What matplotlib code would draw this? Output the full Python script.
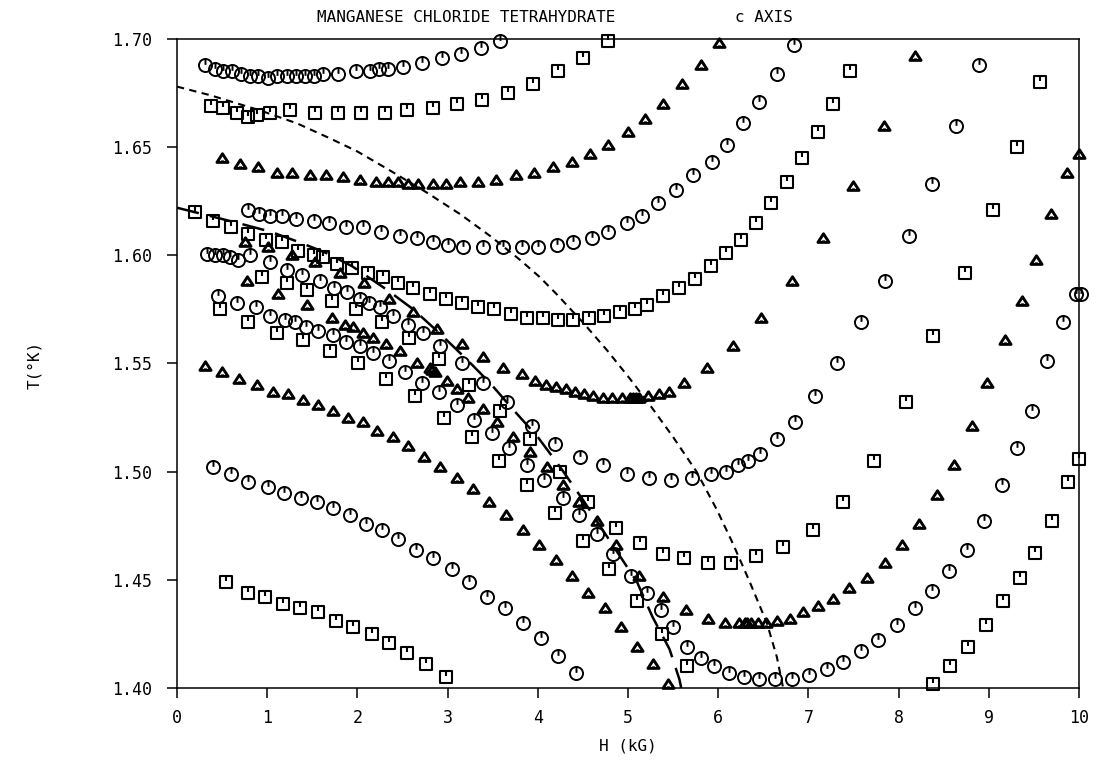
import matplotlib
matplotlib.use("Agg")
import matplotlib.pyplot as plt
from matplotlib.path import Path

plt.rcParams['font.family'] = ['DejaVu Sans Mono']

# ---- circles ----
circ_a_h = [0.31, 0.42, 0.51, 0.61, 0.71, 0.81, 0.90, 1.01, 1.11, 1.22, 1.32, 1.42, 1.52, 1.62, 1.78,
            1.99, 2.14, 2.24, 2.34, 2.51, 2.72, 2.94, 3.15, 3.37, 3.58]
circ_a_t = [1.688, 1.686, 1.685, 1.685, 1.684, 1.683, 1.683, 1.682, 1.683, 1.683, 1.683, 1.683, 1.683, 1.684, 1.684,
            1.685, 1.685, 1.686, 1.686, 1.687, 1.689, 1.691, 1.693, 1.696, 1.699]

circ_d_h = [0.79, 0.91, 1.03, 1.16, 1.32, 1.52, 1.69, 1.87, 2.06, 2.26, 2.47, 2.66, 2.84, 3.00, 3.17, 3.39, 3.61,
            3.82, 4.00, 4.21, 4.39, 4.60, 4.78, 4.99, 5.16, 5.33, 5.53, 5.72, 5.93, 6.10, 6.27, 6.45, 6.65, 6.84]
circ_d_t = [1.621, 1.619, 1.618, 1.618, 1.617, 1.616, 1.615, 1.613, 1.613, 1.611, 1.609, 1.608, 1.606, 1.605, 1.604,
            1.604, 1.604, 1.604, 1.604, 1.605, 1.606, 1.608, 1.611, 1.615, 1.618, 1.624, 1.630, 1.637, 1.643, 1.651,
            1.661, 1.671, 1.684, 1.697]

circ_g_h = [0.33, 0.42, 0.51, 0.59, 0.68, 0.81, 1.03, 1.22, 1.39, 1.59, 1.74, 1.88, 2.03, 2.13, 2.25, 2.39, 2.56,
            2.73, 2.92, 3.16, 3.39, 3.66, 3.94, 4.19, 4.47, 4.72, 4.99, 5.23, 5.48, 5.71, 5.92, 6.09, 6.22, 6.33,
            6.46, 6.65, 6.85, 7.07, 7.32, 7.58, 7.85, 8.12, 8.37, 8.64, 8.89]
circ_g_t = [1.6005, 1.600, 1.600, 1.599, 1.598, 1.600, 1.597, 1.593, 1.591, 1.588, 1.585, 1.583, 1.580, 1.578,
            1.576, 1.572, 1.568, 1.564, 1.558, 1.550, 1.541, 1.532, 1.521, 1.513, 1.507, 1.503, 1.499, 1.497,
            1.496, 1.497, 1.499, 1.500, 1.503, 1.505, 1.508, 1.515, 1.523, 1.535, 1.550, 1.569, 1.588, 1.609,
            1.633, 1.660, 1.688]

circ_h_h = [0.45, 0.67, 0.88, 1.03, 1.20, 1.31, 1.43, 1.56, 1.73, 1.87, 2.03, 2.17, 2.35, 2.53, 2.72, 2.90, 3.10,
            3.29, 3.49, 3.68, 3.88, 4.07, 4.28, 4.46, 4.66, 4.83, 5.03, 5.21, 5.37, 5.50, 5.65, 5.81, 5.95, 6.12,
            6.29, 6.45, 6.63, 6.82, 7.01, 7.21, 7.38, 7.58, 7.77, 7.98, 8.18, 8.37, 8.56, 8.76, 8.95, 9.15, 9.31,
            9.48, 9.65, 9.82, 9.97, 10.02]
circ_h_t = [1.581, 1.578, 1.576, 1.572, 1.570, 1.569, 1.567, 1.565, 1.563, 1.560, 1.558, 1.555, 1.551, 1.546,
            1.541, 1.537, 1.531, 1.524, 1.518, 1.511, 1.503, 1.496, 1.488, 1.480, 1.471, 1.462, 1.452, 1.444,
            1.436, 1.428, 1.419, 1.414, 1.410, 1.407, 1.405, 1.404, 1.404, 1.404, 1.406, 1.409, 1.412, 1.417,
            1.422, 1.429, 1.437, 1.445, 1.454, 1.464, 1.477, 1.494, 1.511, 1.528, 1.551, 1.569, 1.582, 1.582]

circ_q_h = [0.40, 0.60, 0.79, 1.01, 1.19, 1.37, 1.55, 1.73, 1.92, 2.10, 2.27, 2.45, 2.65, 2.84, 3.05, 3.24, 3.44,
            3.64, 3.84, 4.04, 4.22, 4.42]
circ_q_t = [1.502, 1.499, 1.495, 1.493, 1.490, 1.488, 1.486, 1.483, 1.480, 1.476, 1.473, 1.469, 1.464, 1.460,
            1.455, 1.449, 1.442, 1.437, 1.430, 1.423, 1.415, 1.407]

# ---- squares ----
sq_b_h = [0.38, 0.51, 0.66, 0.79, 0.89, 1.03, 1.25, 1.53, 1.79, 2.04, 2.31, 2.55, 2.84, 3.10, 3.38, 3.67, 3.95,
          4.22, 4.50, 4.78]
sq_b_t = [1.669, 1.668, 1.666, 1.664, 1.665, 1.666, 1.667, 1.666, 1.666, 1.666, 1.666, 1.667, 1.668, 1.670, 1.672,
          1.675, 1.679, 1.685, 1.691, 1.699]

sq_e_h = [0.20, 0.40, 0.60, 0.79, 0.99, 1.16, 1.34, 1.52, 1.62, 1.77, 1.94, 2.12, 2.28, 2.45, 2.62, 2.81, 2.98,
          3.16, 3.34, 3.51, 3.70, 3.88, 4.06, 4.22, 4.39, 4.57, 4.73, 4.91, 5.08, 5.21, 5.39, 5.56, 5.74, 5.92,
          6.09, 6.25, 6.42, 6.59, 6.76, 6.93, 7.11, 7.27, 7.46]
sq_e_t = [1.620, 1.616, 1.613, 1.610, 1.607, 1.606, 1.602, 1.600, 1.599, 1.596, 1.594, 1.592, 1.590, 1.587, 1.585,
          1.582, 1.580, 1.578, 1.576, 1.575, 1.573, 1.571, 1.571, 1.570, 1.570, 1.571, 1.572, 1.574, 1.575, 1.577,
          1.581, 1.585, 1.589, 1.595, 1.601, 1.607, 1.615, 1.624, 1.634, 1.645, 1.657, 1.670, 1.685]

sq_j_h = [0.48, 0.79, 1.11, 1.40, 1.70, 2.01, 2.32, 2.64, 2.96, 3.27, 3.57, 3.88, 4.19, 4.50, 4.79, 5.10, 5.38, 5.65]
sq_j_t = [1.575, 1.569, 1.564, 1.561, 1.556, 1.550, 1.543, 1.535, 1.525, 1.516, 1.505, 1.494, 1.481, 1.468, 1.455,
          1.440, 1.425, 1.410]

sq_k_h = [0.94, 1.22, 1.44, 1.72, 1.98, 2.27, 2.57, 2.90, 3.24, 3.58, 3.91, 4.25, 4.56, 4.87, 5.13, 5.39, 5.62,
          5.89, 6.14, 6.42, 6.72, 7.05, 7.38, 7.73, 8.08, 8.38, 8.74, 9.05, 9.31, 9.57]
sq_k_t = [1.590, 1.587, 1.584, 1.579, 1.575, 1.569, 1.562, 1.552, 1.540, 1.528, 1.515, 1.500, 1.486, 1.474, 1.467,
          1.462, 1.460, 1.458, 1.458, 1.461, 1.465, 1.473, 1.486, 1.505, 1.532, 1.5625, 1.592, 1.621, 1.650, 1.680]

sq_l_h = [8.38, 8.57, 8.77, 8.97, 9.16, 9.35, 9.51, 9.70, 9.88, 10.0]
sq_l_t = [1.402, 1.410, 1.419, 1.429, 1.440, 1.451, 1.4625, 1.477, 1.495, 1.506]

sq_r_h = [0.54, 0.79, 0.98, 1.18, 1.36, 1.56, 1.76, 1.95, 2.16, 2.35, 2.55, 2.76, 2.98]
sq_r_t = [1.449, 1.444, 1.442, 1.439, 1.437, 1.435, 1.431, 1.428, 1.425, 1.421, 1.416, 1.411, 1.405]

# ---- triangles ----
tri_c_h = [0.50, 0.70, 0.90, 1.11, 1.27, 1.48, 1.65, 1.84, 2.03, 2.21, 2.34, 2.45, 2.56, 2.67, 2.84, 2.98, 3.14,
           3.34, 3.54, 3.76, 3.96, 4.17, 4.38, 4.58, 4.78, 5.00, 5.19, 5.39, 5.60, 5.81, 6.01]
tri_c_t = [1.645, 1.642, 1.641, 1.638, 1.638, 1.637, 1.637, 1.636, 1.635, 1.634, 1.634, 1.634, 1.633, 1.633, 1.633,
           1.633, 1.634, 1.634, 1.635, 1.637, 1.638, 1.641, 1.643, 1.647, 1.651, 1.657, 1.663, 1.670, 1.679, 1.688,
           1.698]

tri_f_h = [0.75, 1.01, 1.27, 1.53, 1.81, 2.07, 2.35, 2.62, 2.88, 3.16, 3.39, 3.61, 3.82, 3.97, 4.09, 4.20, 4.31,
           4.41, 4.51, 4.61, 4.72, 4.82, 4.93, 5.02, 5.06, 5.09, 5.12, 5.22, 5.34, 5.46, 5.62, 5.88, 6.16, 6.47,
           6.82, 7.16, 7.49, 7.84, 8.18]
tri_f_t = [1.606, 1.604, 1.600, 1.597, 1.592, 1.587, 1.580, 1.574, 1.566, 1.559, 1.553, 1.548, 1.545, 1.542, 1.540,
           1.539, 1.538, 1.537, 1.536, 1.535, 1.534, 1.534, 1.534, 1.534, 1.534, 1.534, 1.534, 1.535, 1.536, 1.537,
           1.541, 1.548, 1.558, 1.571, 1.588, 1.608, 1.632, 1.660, 1.692]

tri_m_h = [0.78, 1.12, 1.44, 1.72, 1.86, 1.95, 2.06, 2.17, 2.32, 2.47, 2.66, 2.80, 2.83, 2.86, 2.99, 3.10, 3.23,
           3.39, 3.55, 3.73, 3.91, 4.10, 4.28, 4.46, 4.66, 4.87, 5.12, 5.39, 5.64, 5.89, 6.08, 6.23, 6.30, 6.32,
           6.36, 6.44, 6.53, 6.65, 6.80, 6.94, 7.11, 7.27, 7.45, 7.65, 7.85, 8.04, 8.23, 8.43, 8.61, 8.81, 8.98,
           9.18, 9.37, 9.52, 9.69, 9.87, 10.0]
tri_m_t = [1.588, 1.582, 1.577, 1.571, 1.568, 1.567, 1.564, 1.562, 1.559, 1.556, 1.550, 1.548, 1.547, 1.546, 1.542,
           1.538, 1.534, 1.529, 1.523, 1.516, 1.509, 1.502, 1.494, 1.486, 1.477, 1.466, 1.452, 1.442, 1.436, 1.432,
           1.430, 1.430, 1.430, 1.430, 1.430, 1.430, 1.430, 1.431, 1.432, 1.435, 1.438, 1.441, 1.446, 1.451, 1.458,
           1.466, 1.476, 1.489, 1.503, 1.521, 1.541, 1.561, 1.579, 1.598, 1.619, 1.638, 1.647]

tri_o_h = [0.31, 0.50, 0.69, 0.89, 1.06, 1.23, 1.40, 1.56, 1.73, 1.90, 2.06, 2.22, 2.39, 2.56, 2.74, 2.92, 3.10,
           3.28, 3.46, 3.65, 3.84, 4.01, 4.20, 4.38, 4.56, 4.75, 4.92, 5.10, 5.28, 5.44]
tri_o_t = [1.549, 1.546, 1.543, 1.540, 1.537, 1.536, 1.533, 1.531, 1.528, 1.525, 1.523, 1.519, 1.516, 1.512, 1.507,
           1.502, 1.497, 1.492, 1.486, 1.480, 1.473, 1.466, 1.459, 1.452, 1.444, 1.437, 1.428, 1.419, 1.411, 1.402]

# ---- dashed boundaries ----
short_h = [0.0, 0.37, 0.92, 1.33, 1.70, 2.00, 2.33, 2.77, 3.14, 3.47, 3.80, 4.02, 4.21, 4.50, 4.77, 5.02, 5.24,
           5.50, 5.76, 5.99, 6.16, 6.35, 6.54, 6.65, 6.72]
short_t = [1.678, 1.674, 1.667, 1.661, 1.654, 1.648, 1.640, 1.629, 1.619, 1.609, 1.598, 1.590, 1.582, 1.569,
           1.556, 1.543, 1.531, 1.516, 1.500, 1.482, 1.467, 1.449, 1.430, 1.4144, 1.400]

long_h = [0.0, 0.29, 0.67, 1.03, 1.36, 1.66, 1.94, 2.33, 2.62, 2.91, 3.21, 3.47, 3.72, 4.00, 4.25, 4.50, 4.72,
          4.91, 5.10, 5.27, 5.46, 5.57, 5.59]
long_t = [1.622, 1.619, 1.615, 1.611, 1.606, 1.601, 1.595, 1.584, 1.575, 1.564, 1.552, 1.541, 1.529, 1.516, 1.502,
          1.487, 1.473, 1.461, 1.449, 1.433, 1.418, 1.404, 1.400]

# marker shapes: open symbol with a small tick inside
M, L, C = Path.MOVETO, Path.LINETO, Path.CLOSEPOLY
circ_mk = Path.make_compound_path(Path.unit_circle(), Path([(0, 1), (0, 0.1)], [M, L]))
sq_mk = Path([(-1, -1), (1, -1), (1, 1), (-1, 1), (-1, -1), (0, 1), (0, 0.1)], [M, L, L, L, C, M, L])
tri_mk = Path([(-1, -0.7), (1, -0.7), (0, 0.85), (-1, -0.7), (0, -0.7), (0, -0.35)], [M, L, L, C, M, L])

fig = plt.figure(figsize=(11.06, 7.65), dpi=100)
ax = fig.add_axes([177 / 1106, 1 - 688 / 765, 902 / 1106, 649 / 765])

ax.plot(short_h, short_t, color='black', lw=1.5, ls=(0, (3.5, 2.6)), zorder=2)
ax.plot(long_h, long_t, color='black', lw=1.8, ls=(0, (9, 4.5)), zorder=2)

kw = dict(ls='none', color='black', mfc='none', mec='black', clip_on=False, zorder=3)
for h, t in [(circ_a_h, circ_a_t), (circ_d_h, circ_d_t), (circ_g_h, circ_g_t), (circ_h_h, circ_h_t),
             (circ_q_h, circ_q_t)]:
    ax.plot(h, t, marker=circ_mk, ms=9.4, mew=1.4, **kw)
for h, t in [(sq_b_h, sq_b_t), (sq_e_h, sq_e_t), (sq_j_h, sq_j_t), (sq_k_h, sq_k_t), (sq_l_h, sq_l_t),
             (sq_r_h, sq_r_t)]:
    ax.plot(h, t, marker=sq_mk, ms=8.2, mew=1.5, **kw)
for h, t in [(tri_c_h, tri_c_t), (tri_f_h, tri_f_t), (tri_m_h, tri_m_t), (tri_o_h, tri_o_t)]:
    ax.plot(h, t, marker=tri_mk, ms=8.0, mew=2.1, **kw)

ax.set_xlim(0, 10)
ax.set_ylim(1.40, 1.70)
ax.set_xticks(range(0, 11))
ax.set_yticks([1.40, 1.45, 1.50, 1.55, 1.60, 1.65, 1.70])
ax.set_yticklabels(['1.40', '1.45', '1.50', '1.55', '1.60', '1.65', '1.70'])
ax.tick_params(direction='out', length=7, width=1.1, labelsize=12)
ax.tick_params(axis='y', pad=11)
ax.tick_params(axis='x', pad=8)
for s in ax.spines.values():
    s.set_linewidth(1.1)

fig.text(466 / 1106, 1 - 17 / 765, 'MANGANESE CHLORIDE TETRAHYDRATE', ha='center', va='center', fontsize=11.5)
fig.text(764 / 1106, 1 - 17 / 765, 'c AXIS', ha='center', va='center', fontsize=11.5)
fig.text(628 / 1106, 1 - 746 / 765, 'H (kG)', ha='center', va='center', fontsize=11.5)
fig.text(35 / 1106, 1 - 365 / 765, 'T(°K)', ha='center', va='center', rotation=90, fontsize=11.5)

fig.savefig('out.png', dpi=100)
